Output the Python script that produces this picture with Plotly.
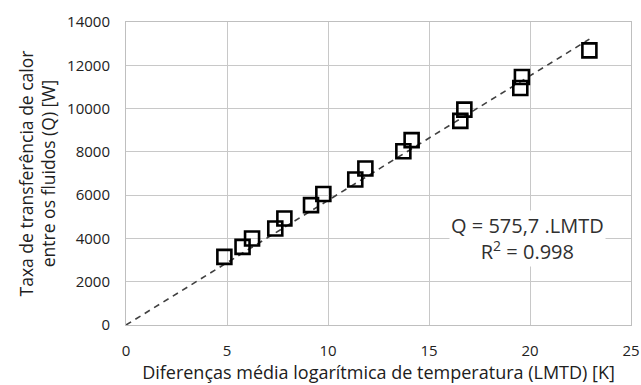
import plotly.graph_objects as go

lmtd = [4.87, 5.77, 6.24, 7.39, 7.84, 9.16, 9.77, 11.35, 11.85, 13.73, 14.14, 16.55, 16.75, 19.52, 19.60, 22.94]
q = [3150, 3610, 4000, 4460, 4920, 5540, 6050, 6720, 7230, 8030, 8540, 9430, 9950, 10950, 11460, 12690]
slope = 575.7
r2 = 0.998

x_ticks = [0, 5, 10, 15, 20, 25]
y_ticks = [0, 2000, 4000, 6000, 8000, 10000, 12000, 14000]
y_tick_text = ["0", "2000", "4000", "6000", "8000", "10000", "12000", "14000"]

fit_x = [0, max(lmtd)]
fit_y = [slope * v for v in fit_x]

fig = go.Figure()
fig.add_trace(go.Scatter(x=fit_x, y=fit_y, mode="lines",
                         line=dict(color="#404040", width=1.6, dash="6px,5px"),
                         showlegend=False, hoverinfo="skip"))
fig.add_trace(go.Scatter(x=lmtd, y=q, mode="markers",
                         marker=dict(symbol="square-open", size=14, color="black",
                                     line=dict(width=2.6, color="black")),
                         showlegend=False))

fig.add_annotation(x=19.9, y=4000, xref="x", yref="y",
                   text="Q = 575,7 .LMTD<br>R<sup>2</sup> = 0.998",
                   showarrow=False, bgcolor="white", align="center",
                   font=dict(family="Open Sans", size=20, color="#303030"))

axis_font = dict(family="Open Sans", size=15, color="#222222")
fig.update_layout(
    width=641, height=385,
    margin=dict(l=126, r=10, t=22, b=60, autoexpand=False),
    plot_bgcolor="white", paper_bgcolor="white",
    xaxis=dict(range=[0, 25], tickvals=x_ticks, showgrid=True, gridcolor="#c8c8c8",
               gridwidth=1, zeroline=False, showline=True, linecolor="#bfbfbf",
               mirror=True, tickfont=axis_font, ticks="", ticklabelstandoff=12,
               ticklabeloverflow="allow", automargin=False,
               title=dict(text="Diferenças média logarítmica de temperatura (LMTD) [K]",
                          font=dict(family="Open Sans", size=18, color="#202020"),
                          standoff=2)),
    yaxis=dict(range=[0, 14000], tickvals=y_ticks, ticktext=y_tick_text, showgrid=True,
               gridcolor="#c8c8c8", gridwidth=1, zeroline=False, showline=True,
               linecolor="#bfbfbf", mirror=True, tickfont=axis_font, ticks="",
               ticklabelstandoff=12, automargin=False,
               title=dict(text="Taxa de transferência de calor<br>entre os fluidos (Q) [W]",
                          font=dict(family="Open Sans", size=17.5, color="#202020"),
                          standoff=6)),
)

fig.write_html("out.html", config={"displayModeBar": False},
               post_script="document.body.style.margin='0';document.body.style.overflow='hidden';")
